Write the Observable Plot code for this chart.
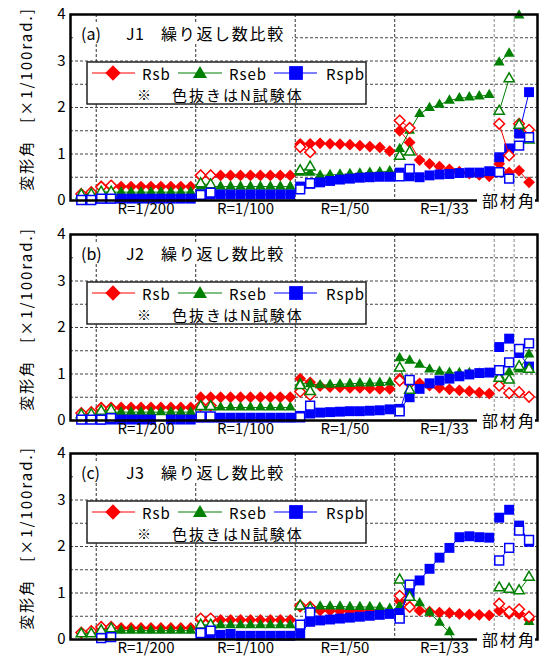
<!DOCTYPE html>
<html><head><meta charset="utf-8">
<script src="https://cdn.jsdelivr.net/npm/d3@7"></script>
<script src="https://cdn.jsdelivr.net/npm/@observablehq/plot@0.6"></script>
<style>
body{margin:0;background:#fff;}
#chart{width:544px;}
#chart svg{display:block;}
</style></head><body><div id="chart"></div>
<script>
const FONT = '"Noto Sans CJK JP", "Noto Sans", sans-serif';

// cycle indices (x categories)
const idxMain = [2,3,4,5,6,7,8,9,10,11,12,13,14,15,16,17,18,19,20,21,22,23,24,25,26,27,28,29,30,31,32,33,34,35,36,37,38,39,40,41,42,43,44,45];
const idxN = [0,1,2,3,12,13,22,23,32,33,42,43,44,45];
const stageBounds = [1.5,11.5,21.5,31.5,41.5,43.5];
const stageLabels = ["R=1/200","R=1/100","R=1/50","R=1/33"];
const stageCenters = [6.5,16.5,26.5,36.5];
const yTicks = [0,1,2,3,4];
const yGrid = [0.5,1,1.5,2,2.5,3,3.5];
const yLabel = "変形角　[×1/100rad.]";
const xEndLabel = "部材角";
const legendNote = ["※","色抜きはN試験体"];
const seriesNames = ["Rsb","Rseb","Rspb"];
const titles = [["(a)","J1","繰り返し数比較"],["(b)","J2","繰り返し数比較"],["(c)","J3","繰り返し数比較"]];

// ---- panel (a) J1 ----
const a_Rsb = [0.31,0.3,0.3,0.3,0.3,0.3,0.3,0.3,0.3,0.3,
  0.54,0.54,0.54,0.54,0.54,0.54,0.54,0.54,0.54,0.54,
  1.22,1.22,1.23,1.22,1.21,1.2,1.18,1.16,1.14,1.06,
  1.5,1.25,0.87,0.79,0.73,0.67,0.62,0.58,0.55,0.52,
  0.79,0.6,0.64,0.39];
const a_Rseb = [0.18,0.18,0.18,0.18,0.18,0.18,0.18,0.18,0.18,0.18,
  0.3,0.3,0.3,0.3,0.3,0.3,0.3,0.3,0.3,0.3,
  0.6,0.6,0.54,0.55,0.56,0.57,0.58,0.6,0.61,0.63,
  1.11,1.5,1.86,1.99,2.06,2.15,2.2,2.22,2.24,2.27,
  2.97,3.16,3.98,null];
const a_Rspb = [0.04,0.04,0.04,0.04,0.04,0.04,0.04,0.04,0.04,0.04,
  0.13,0.13,0.13,0.13,0.13,0.13,0.13,0.13,0.13,0.13,
  0.3,0.36,0.39,0.42,0.45,0.47,0.49,0.5,0.51,0.51,
  0.6,0.52,0.5,0.54,0.56,0.57,0.59,0.6,0.6,0.63,
  0.93,1.12,1.44,2.33];
const a_RsbN = [0.14,0.18,0.29,0.32,0.54,0.54,1.15,1.04,1.72,1.56,1.65,0.97,1.65,1.52];
const a_RsebN = [0.12,0.13,0.18,0.18,0.36,0.34,0.64,0.72,0.95,1.04,1.92,2.62,1.62,1.3];
const a_RspbN = [0.01,0.01,0.04,0.04,0.12,0.17,0.24,0.37,0.52,0.68,0.61,0.47,1.18,1.36];

// ---- panel (b) J2 ----
const b_Rsb = [0.28,0.28,0.28,0.28,0.28,0.28,0.28,0.28,0.28,0.28,
  0.5,0.5,0.5,0.5,0.5,0.5,0.5,0.5,0.5,0.5,
  0.9,0.82,0.74,0.72,0.71,0.7,0.7,0.69,0.68,0.68,
  0.9,0.85,0.8,0.75,0.7,0.67,0.65,0.63,0.6,0.58,
  null,null,null,null];
const b_Rseb = [0.18,0.18,0.18,0.18,0.18,0.18,0.18,0.18,0.18,0.18,
  0.28,0.28,0.28,0.28,0.28,0.28,0.28,0.28,0.28,0.28,
  0.8,0.78,0.76,0.77,0.78,0.79,0.8,0.8,0.81,0.82,
  1.34,1.29,1.2,1.1,1.05,1.03,1.02,1.02,1.01,1.0,
  0.97,1.04,1.1,1.42];
const b_Rspb = [0.02,0.02,0.02,0.02,0.02,0.02,null,0.02,0.02,0.02,
  0.06,0.06,0.06,0.06,0.06,0.06,0.06,0.06,0.06,0.06,
  0.1,0.15,0.17,0.18,0.19,0.2,0.2,0.21,0.22,0.24,
  0.25,0.5,0.68,0.8,0.86,0.9,0.95,0.99,1.02,1.03,
  1.58,1.76,1.45,1.16];
const b_RsbN = [0.16,0.18,0.26,0.26,0.32,0.32,0.62,0.55,0.86,0.8,0.75,0.59,0.61,0.51];
const b_RsebN = [0.12,0.13,0.2,0.22,0.3,0.3,0.75,0.62,1.13,0.65,0.91,0.87,1.16,1.1];
const b_RspbN = [0.02,0.02,0.02,0.05,0.09,0.09,0.07,0.32,0.2,0.87,1.08,1.25,1.54,1.66];

// ---- panel (c) J3 ----
const c_Rsb = [0.25,0.25,0.25,0.25,0.25,0.25,0.25,0.25,0.25,0.25,
  0.42,0.42,0.42,0.42,0.42,0.42,0.42,0.42,0.42,0.42,
  0.7,0.65,0.62,0.62,0.61,0.61,0.6,0.6,0.6,0.6,
  0.82,0.7,0.62,0.6,0.58,0.57,0.55,0.54,0.53,0.52,
  0.62,0.55,0.55,0.43];
const c_Rseb = [0.19,0.19,0.19,0.19,0.19,0.19,0.19,0.19,0.19,0.19,
  0.31,0.31,0.31,0.31,0.31,0.31,0.31,0.31,0.31,0.31,
  0.7,0.7,0.71,0.71,0.71,0.7,0.7,0.7,0.69,0.66,
  0.72,0.93,0.78,0.58,0.36,0.16,-0.3,null,null,null,
  null,null,null,0.38];
const c_Rspb = [null,null,null,null,null,null,null,null,null,null,
  0.1,0.1,0.1,0.12,0.08,0.08,0.08,0.08,0.08,0.08,
  0.12,0.38,0.41,0.43,0.45,0.47,0.49,0.51,0.53,0.55,
  0.57,1.0,1.27,1.52,1.76,1.97,2.2,2.22,2.2,2.19,
  2.62,2.79,2.45,2.1];
const c_RsbN = [0.15,0.18,0.27,0.27,0.45,0.45,0.73,0.7,0.94,0.7,0.77,0.6,0.65,0.49];
const c_RsebN = [0.12,0.12,0.19,0.23,0.31,0.31,0.72,0.66,1.28,0.91,1.11,1.08,1.05,1.34];
const c_RspbN = [null,null,0.03,0.05,0.14,0.19,0.32,0.58,0.45,1.18,1.7,1.97,2.34,2.14];

const panels = [
  {title:titles[0], main:[a_Rsb,a_Rseb,a_Rspb], n:[a_RsbN,a_RsebN,a_RspbN]},
  {title:titles[1], main:[b_Rsb,b_Rseb,b_Rspb], n:[b_RsbN,b_RsebN,b_RspbN]},
  {title:titles[2], main:[c_Rsb,c_Rseb,c_Rspb], n:[c_RsbN,c_RsebN,c_RspbN]}
];
const heights = [220,219,225];

const styles = [
  {color:"#ff0000", symbol:"diamond2", r:5.3, rOpen:4.8, d3sym:d3.symbolDiamond2, lsize:150},
  {color:"#008000", symbol:"triangle", r:4.0, rOpen:3.8, d3sym:d3.symbolTriangle, lsize:85},
  {color:"#0000ff", symbol:"square", r:5.6, rOpen:5.0, d3sym:d3.symbolSquare, lsize:190}
];

function stageOf(i){ return stageBounds.filter(b => b < i).length; }
function rows(idx, vals){ return idx.map((x,j) => ({idx:x, v:vals[j], stage:stageOf(x)})); }
const ok = d => d.v != null && d.v >= 0;

const container = document.getElementById("chart");

panels.forEach((p, pi) => {
  const height = heights[pi];
  const marks = [
    Plot.ruleY(yGrid, {stroke:"#444", strokeDasharray:"3,2"}),
    Plot.ruleX(stageBounds.slice(0,4), {stroke:"#333", strokeDasharray:"3,2"}),
    Plot.ruleX(stageBounds.slice(4), {stroke:"#888", strokeDasharray:"3,2"})
  ];
  styles.forEach((s, si) => {
    const d = rows(idxMain, p.main[si]);
    marks.push(Plot.line(d, {x:"idx", y:"v", z:"stage", stroke:s.color, strokeWidth:1, clip:true}));
    marks.push(Plot.dot(d.filter(ok), {x:"idx", y:"v", symbol:s.symbol, r:s.r, fill:s.color, stroke:"none"}));
  });
  styles.forEach((s, si) => {
    const d = rows(idxN, p.n[si]);
    marks.push(Plot.line(d, {x:"idx", y:"v", z:"stage", stroke:s.color, strokeWidth:1}));
    marks.push(Plot.dot(d.filter(ok), {x:"idx", y:"v", symbol:s.symbol, r:s.rOpen, fill:"white", stroke:s.color, strokeWidth:1.5}));
  });
  marks.push(Plot.frame({stroke:"#000", strokeWidth:2.5}));
  marks.push(Plot.axisY(yTicks, {tickSize:0, tickPadding:5, fontSize:15, label:null}));
  marks.push(Plot.text(stageLabels, {x:stageCenters, frameAnchor:"bottom", dy:13, fontSize:15}));

  const svg = Plot.plot({
    width:544, height, marginTop:14, marginBottom:height-200, marginLeft:70, marginRight:7,
    x:{domain:[-1.085,45.85], axis:null},
    y:{domain:[0,4]},
    style:{fontFamily:FONT, background:"white", color:"#000", fontSize:"15px"},
    marks
  });
  container.appendChild(svg);

  const g = d3.select(svg);
  const txt = (x, y, s, size, ls, anchor) => g.append("text")
    .attr("x", x).attr("y", y).attr("dominant-baseline","central")
    .attr("text-anchor", anchor || "start")
    .style("font-family", FONT).style("font-size", size + "px")
    .style("letter-spacing", (ls||0) + "px").attr("fill","#000").text(s);

  // y-axis title (rotated)
  txt(0, 0, yLabel, 15, 2, "middle").attr("transform", "translate(25,99) rotate(-90)");

  // title
  g.append("rect").attr("x",74).attr("y",23).attr("width",218).attr("height",20).attr("fill","white");
  txt(81, 33, p.title[0], 16, 0);
  txt(126, 33, p.title[1], 16, 0.5);
  txt(161, 33, p.title[2], 16, 1.7);

  // legend
  g.append("rect").attr("x",87).attr("y",62).attr("width",279).attr("height",42)
    .attr("fill","white").attr("stroke","#222").attr("stroke-width",1.5);
  const lx = [{x0:92,x1:135,m:113,t:142},{x0:178,x1:222,m:200,t:229},{x0:274,x1:317,m:296,t:326}];
  styles.forEach((s, si) => {
    const L = lx[si];
    g.append("line").attr("x1",L.x0).attr("x2",L.x1).attr("y1",73).attr("y2",73)
      .attr("stroke",s.color).attr("stroke-width",1.2);
    g.append("path").attr("d", d3.symbol(s.d3sym, s.lsize)())
      .attr("transform",`translate(${L.m},${73 + (si===1?1:0)})`).attr("fill",s.color);
    txt(L.t, 73, seriesNames[si], 15, 1);
  });
  txt(137, 94, legendNote[0], 14, 0);
  txt(172, 94, legendNote[1], 15, 2);

  // 部材角 label on the bottom edge
  g.append("rect").attr("x",477).attr("y",191).attr("width",58).attr("height",18).attr("fill","white");
  txt(482, 200, xEndLabel, 16, 2);
});
</script>
</body></html>
